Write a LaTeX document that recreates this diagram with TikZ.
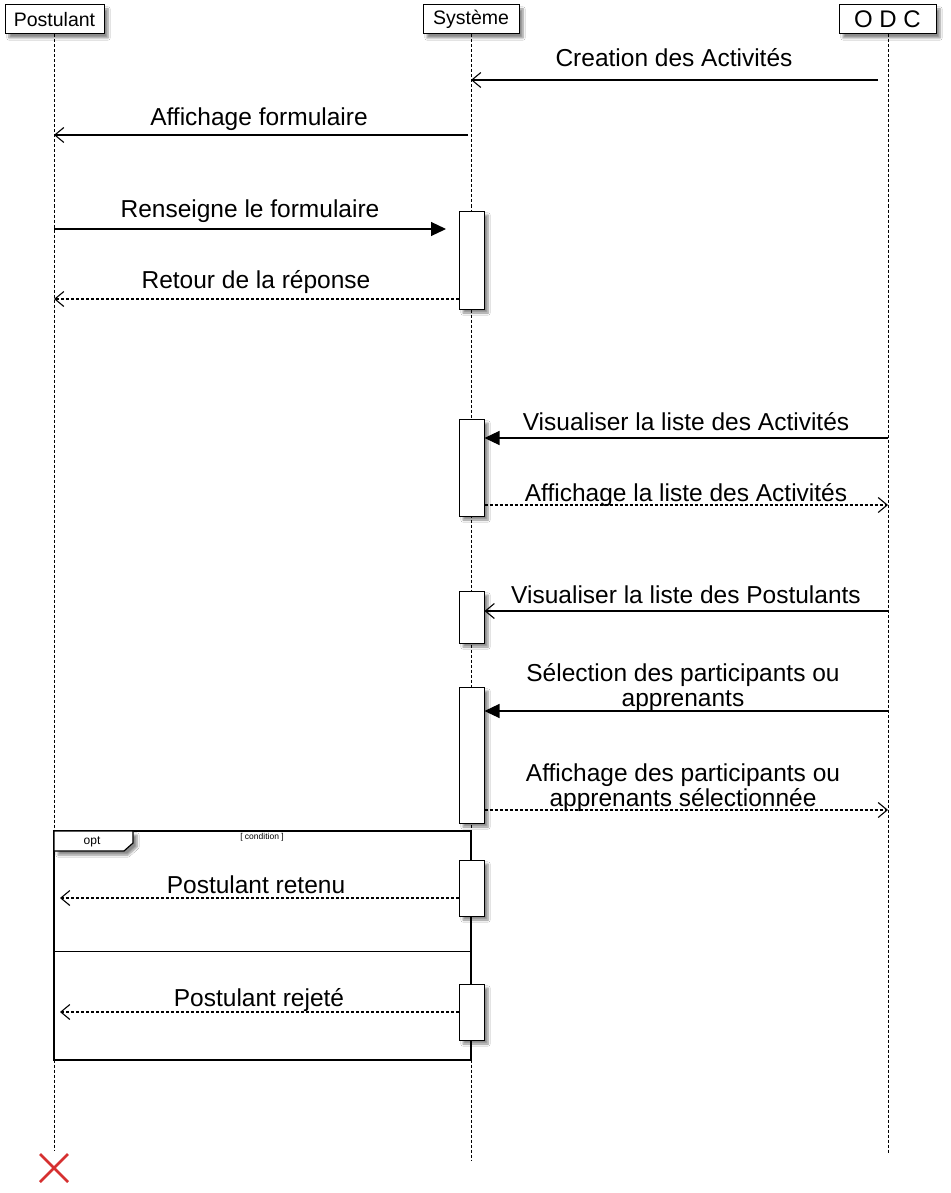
\documentclass[tikz,border=0pt]{standalone}
\usepackage{fontspec}
\setmainfont{Liberation Sans}
\usetikzlibrary{arrows.meta,shadows,shadows.blur}
\definecolor{xred}{RGB}{214,48,48}
\begin{document}
\begin{tikzpicture}[x=1pt,y=-1pt,
  shad/.style={blur shadow={shadow xshift=4pt,shadow yshift=-4pt,shadow blur steps=6,shadow opacity=45}},
  hdr/.style={draw, line width=1pt, fill=white, minimum height=29pt, inner sep=0pt, shad},
  actbox/.style={draw, line width=1pt, fill=white, minimum width=25pt, inner sep=0pt, shad},
  life/.style={line width=0.9pt, dash pattern=on 3pt off 2pt},
  msg/.style={line width=1.2pt},
  ret/.style={line width=1.1pt, dash pattern=on 3pt off 2pt},
  open/.style={-{Straight Barb[length=9pt,width=15pt,line width=1.1pt]}},
  filled/.style={-{Triangle[length=15pt,width=14pt,fill=black]}},
  lbl/.style={anchor=base, font=\fontsize{24.5}{25}\selectfont, inner sep=0pt, align=center}
]
\useasboundingbox (0,0) rectangle (950,1193);
\fill[white] (0,0) rectangle (950,1193);

% headers
\node[hdr, minimum width=99pt, font=\fontsize{19.5}{20}\selectfont] (P) at (54.5,19.5) {Postulant};
\node[hdr, minimum width=96pt, font=\fontsize{19.5}{20}\selectfont] (S) at (471,19.5) {Système};
\node[hdr, minimum width=97pt, font=\fontsize{24}{25}\selectfont] (O) at (887.5,19.5) {O D C};

\coordinate (Pend) at (54,1150);
\coordinate (Send) at (471,1160);
\coordinate (Oend) at (888,1153);

% lifelines
\draw[life] (P.south -| Pend) -- (Pend);
\draw[life] (S.south -| Send) -- (Send);
\draw[life] (O.south -| Oend) -- (Oend);

% opt frame
\draw[line width=1.5pt] (54,831) rectangle (471,1060);
\draw[line width=1.2pt, fill=white, shad] (54,831) -- (133,831) -- (133,843) -- (124,851) -- (54,851) -- cycle;
\node[font=\fontsize{12}{13}\selectfont, inner sep=0pt] (optl) at (92,842) {opt};
\node[font=\fontsize{8.5}{9}\selectfont, inner sep=0pt] (cond) at (262,837) {[ condition ]};
\draw[line width=0.8pt] (54,951) -- (471,951);

% activation boxes
\node[actbox, minimum height=98pt] (a1) at (471.5,260) {};
\node[actbox, minimum height=97pt] (a2) at (471.5,467.5) {};
\node[actbox, minimum height=52pt] (a3) at (471.5,617) {};
\node[actbox, minimum height=136pt] (a4) at (471.5,755) {};
\node[actbox, minimum height=56pt] (a5) at (471.5,888) {};
\node[actbox, minimum height=56pt] (a6) at (471.5,1012) {};

% message end points
\coordinate (o1) at (878,80);
\coordinate (s1) at (471,80);
\coordinate (s2) at (468,135);
\coordinate (p2) at (54,135);
\coordinate (p3) at (54,229);
\coordinate (t3) at (446,229);
\coordinate (p4) at (54,299);
\coordinate (o5) at (888,438);
\coordinate (o6) at (888,505);
\coordinate (o7) at (888,611);
\coordinate (o8) at (888,711);
\coordinate (o9) at (888,810);
\coordinate (p10) at (60,898);
\coordinate (p11) at (60,1012);

% messages
\draw[msg, open] (o1) -- (s1);
\node[lbl] (l1) at (674,67) {Creation des Activités};

\draw[msg, open] (s2) -- (p2);
\node[lbl] (l2) at (259,126) {Affichage formulaire};

\draw[msg, filled] (p3) -- (t3);
\node[lbl] (l3) at (250,217) {Renseigne le formulaire};

\draw[ret, open] (a1.west |- p4) -- (p4);
\node[lbl] (l4) at (256,288) {Retour de la réponse};

\draw[msg, filled] (o5) -- (a2.east |- o5);
\node[lbl] (l5) at (686,430) {Visualiser la liste des Activités};

\draw[ret, open] (a2.east |- o6) -- (o6);
\node[lbl] (l6) at (686,501) {Affichage la liste des Activités};

\draw[msg, open] (o7) -- (a3.east |- o7);
\node[lbl] (l7) at (686,603) {Visualiser la liste des Postulants};

\draw[msg, filled] (o8) -- (a4.east |- o8);
\node[lbl] (l8) at (683,706) {Sélection des participants ou\\apprenants};

\draw[ret, open] (a4.east |- o9) -- (o9);
\node[lbl] (l9) at (683,806) {Affichage des participants ou\\apprenants sélectionnée};

\draw[ret, open] (a5.west |- p10) -- (p10);
\node[lbl] (l10) at (256,893) {Postulant retenu};

\draw[ret, open] (a6.west |- p11) -- (p11);
\node[lbl] (l11) at (259,1006) {Postulant rejeté};

% destruction
\coordinate (x1) at (40,1154);
\coordinate (x2) at (68,1182);
\coordinate (x3) at (68,1154);
\coordinate (x4) at (40,1182);
\draw[xred, line width=2.5pt] (x1) -- (x2);
\draw[xred, line width=2.5pt] (x3) -- (x4);
\end{tikzpicture}
\end{document}
